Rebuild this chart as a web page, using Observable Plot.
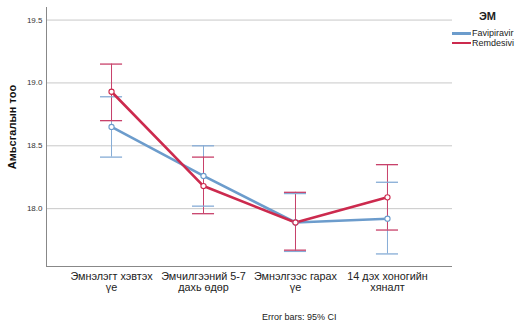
<!DOCTYPE html>
<html><head><meta charset="utf-8">
<script src="https://cdn.jsdelivr.net/npm/d3@7"></script>
<script src="https://cdn.jsdelivr.net/npm/@observablehq/plot@0.6"></script>
<style>
body{margin:0;background:#fff;font-family:"Liberation Sans",Arial,sans-serif;}
#wrap{position:relative;width:518px;height:324px;}
.leg{position:absolute;font-size:9px;color:#222;white-space:nowrap;line-height:1;}
</style></head><body><div id="wrap"></div>
<script>
const categories = ["Эмнэлэгт хэвтэх\nүе", "Эмчилгээний 5-7\nдахь өдөр", "Эмнэлгээс гарах\nүе", "14 дэх хоногийн\nхяналт"];
const groups = ["Favipiravir", "Remdesivi"];
const favMean = [18.65, 18.26, 17.89, 17.92];
const favLow  = [18.41, 18.02, 17.66, 17.64];
const favHigh = [18.89, 18.50, 18.12, 18.21];
const remMean = [18.93, 18.18, 17.89, 18.09];
const remLow  = [18.70, 17.96, 17.67, 17.83];
const remHigh = [19.15, 18.41, 18.13, 18.35];
const yTicks = [18.0, 18.5, 19.0, 19.5];
const colors = ["#6c9ccc", "#cc2a4e"];
const barColors = ["#86acd6", "#c8416a"];

const rows = [];
categories.forEach((c, i) => {
  rows.push({i, g: groups[0], m: favMean[i], lo: favLow[i], hi: favHigh[i]});
  rows.push({i, g: groups[1], m: remMean[i], lo: remLow[i], hi: remHigh[i]});
});
const cap = 0.12;

const chart = Plot.plot({
  width: 518, height: 324,
  marginLeft: 46, marginRight: 66, marginTop: 7, marginBottom: 58,
  style: {fontFamily: "Liberation Sans, Arial, sans-serif", background: "#fff"},
  x: {type: "linear", domain: [-0.707, 3.707], label: null},
  y: {domain: [17.54, 19.6], label: null},
  marks: [
    Plot.ruleY(yTicks, {stroke: "#c8c8c8", strokeWidth: 1}),
    Plot.axisY({ticks: yTicks, tickSize: 0, tickPadding: 4, tickFormat: d => d.toFixed(1), fontSize: 8, fill: "#333", label: null}),
    Plot.axisX({ticks: [0,1,2,3], tickSize: 0, tickPadding: 5, tickFormat: i => categories[i], fontSize: 10.8, fill: "#222", label: null, lineHeight: 1.06}),
    Plot.ruleX([-0.707], {stroke: "#888"}),
    Plot.ruleY([17.54], {stroke: "#888"}),
    Plot.ruleX(rows, {x: "i", y1: "lo", y2: "hi", stroke: d => barColors[groups.indexOf(d.g)], strokeWidth: 1}),
    Plot.ruleY(rows, {y: "lo", x1: d => d.i - cap, x2: d => d.i + cap, stroke: d => barColors[groups.indexOf(d.g)], strokeWidth: 1.3}),
    Plot.ruleY(rows, {y: "hi", x1: d => d.i - cap, x2: d => d.i + cap, stroke: d => barColors[groups.indexOf(d.g)], strokeWidth: 1.3}),
    Plot.line(rows.filter(d => d.g === groups[0]), {x: "i", y: "m", stroke: colors[0], strokeWidth: 2.6}),
    Plot.line(rows.filter(d => d.g === groups[1]), {x: "i", y: "m", stroke: colors[1], strokeWidth: 2.6}),
    Plot.dot(rows, {x: "i", y: "m", r: 2.6, stroke: d => colors[groups.indexOf(d.g)], fill: "#fff", strokeWidth: 1.1})
  ]
});
const wrap = document.getElementById("wrap");
wrap.appendChild(chart);

function add(html, css) {
  const d = document.createElement("div");
  d.className = "leg"; d.innerHTML = html; Object.assign(d.style, css); wrap.appendChild(d);
}
add("Амьсгалын тоо", {left: "12px", top: "127px", fontSize: "11px", fontWeight: "bold", color: "#111",
  transform: "translate(-50%,-50%) rotate(-90deg)"});
add("ЭМ", {left: "479px", top: "11px", fontSize: "11px", fontWeight: "bold"});
groups.forEach((g, k) => {
  add(`<span style="display:inline-block;width:19px;height:2.5px;background:${colors[k]};vertical-align:middle;margin-right:1px"></span>${g}`,
      {left: "452px", top: (29 + k * 9.5) + "px"});
});
add("Error bars: 95% CI", {left: "262px", top: "313px", fontSize: "9px"});
</script></body></html>
